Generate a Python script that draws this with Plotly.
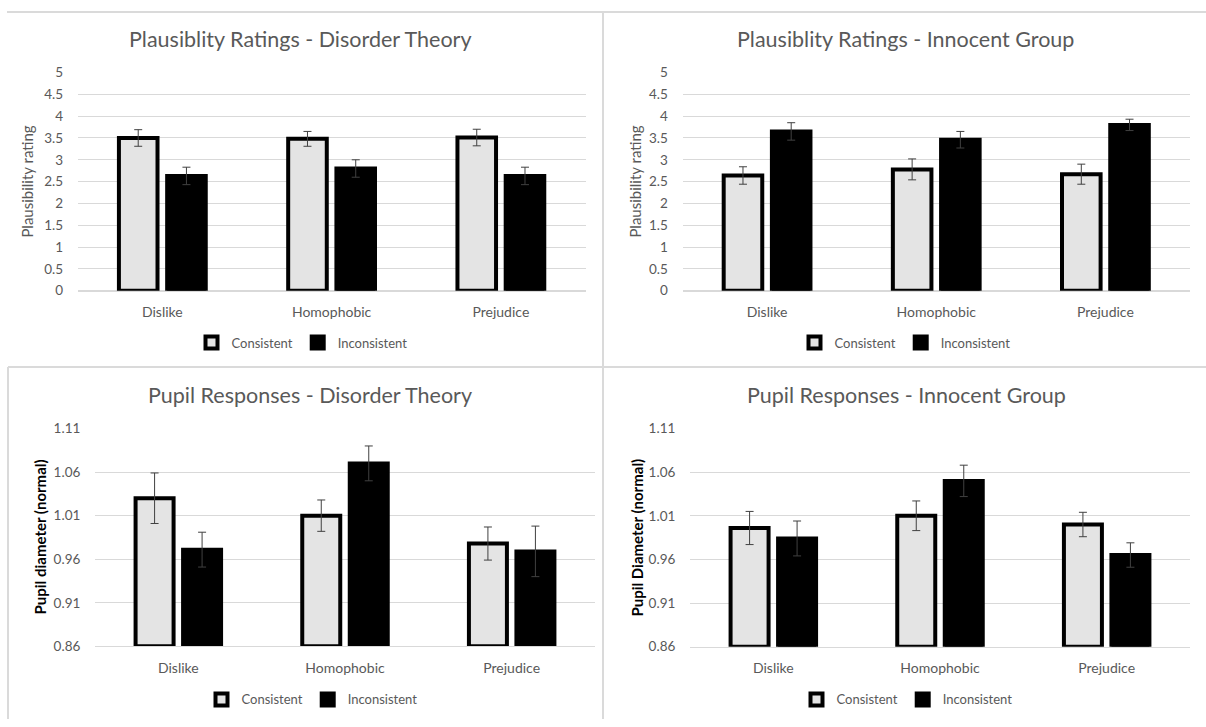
import plotly.graph_objects as go

# ---------------- data ----------------
categories = ["Dislike", "Homophobic", "Prejudice"]
series_names = ["Consistent", "Inconsistent"]

plaus_disorder_consistent = [3.50, 3.48, 3.51]
plaus_disorder_consistent_err = [0.19, 0.17, 0.19]
plaus_disorder_inconsistent = [2.63, 2.80, 2.63]
plaus_disorder_inconsistent_err = [0.20, 0.20, 0.20]

plaus_innocent_consistent = [2.64, 2.78, 2.67]
plaus_innocent_consistent_err = [0.20, 0.24, 0.23]
plaus_innocent_inconsistent = [3.65, 3.46, 3.80]
plaus_innocent_inconsistent_err = [0.20, 0.19, 0.13]

pupil_disorder_consistent = [1.030, 1.010, 0.978]
pupil_disorder_consistent_err = [0.029, 0.018, 0.019]
pupil_disorder_inconsistent = [0.971, 1.070, 0.969]
pupil_disorder_inconsistent_err = [0.020, 0.020, 0.029]

pupil_innocent_consistent = [0.996, 1.010, 1.000]
pupil_innocent_consistent_err = [0.019, 0.017, 0.014]
pupil_innocent_inconsistent = [0.984, 1.050, 0.965]
pupil_innocent_inconsistent_err = [0.020, 0.018, 0.014]

plaus_range = [0, 5]
plaus_ticks = [0, 0.5, 1, 1.5, 2, 2.5, 3, 3.5, 4, 4.5, 5]
pupil_range = [0.86, 1.11]
pupil_ticks = [0.86, 0.91, 0.96, 1.01, 1.06, 1.11]

titles = [
    "Plausiblity Ratings - Disorder Theory",
    "Plausiblity Ratings - Innocent Group",
    "Pupil Responses - Disorder Theory",
    "Pupil Responses - Innocent Group",
]
y_titles = [
    "Plausibility rating",
    "Plausibility rating",
    "<b>Pupil diameter (normal)</b>",
    "<b>Pupil Diameter (normal)</b>",
]

# ---------------- layout geometry (pixels) ----------------
W, H = 1206, 727
GRAY = "#595959"
FONT = "Lato"

panels = [
    dict(cons=plaus_disorder_consistent, cons_err=plaus_disorder_consistent_err,
         inc=plaus_disorder_inconsistent, inc_err=plaus_disorder_inconsistent_err,
         rng=plaus_range, ticks=plaus_ticks, fmt="",
         x0=77.7, x1=585.5, ytop=66, ybot=289, title_x=300, title_y=32,
         ytitle_x=27, ytitle_color=GRAY, ytitle_size=15, legend_x=302, legend_y=342),
    dict(cons=plaus_innocent_consistent, cons_err=plaus_innocent_consistent_err,
         inc=plaus_innocent_inconsistent, inc_err=plaus_innocent_inconsistent_err,
         rng=plaus_range, ticks=plaus_ticks, fmt="",
         x0=682.5, x1=1190, ytop=66, ybot=289, title_x=905, title_y=32,
         ytitle_x=635, ytitle_color=GRAY, ytitle_size=15, legend_x=905, legend_y=342),
    dict(cons=pupil_disorder_consistent, cons_err=pupil_disorder_consistent_err,
         inc=pupil_disorder_inconsistent, inc_err=pupil_disorder_inconsistent_err,
         rng=pupil_range, ticks=pupil_ticks, fmt=".2f",
         x0=95, x1=595, ytop=430, ybot=652.7, title_x=310, title_y=396,
         ytitle_x=40, ytitle_color="#000000", ytitle_size=15, legend_x=312, legend_y=707),
    dict(cons=pupil_innocent_consistent, cons_err=pupil_innocent_consistent_err,
         inc=pupil_innocent_inconsistent, inc_err=pupil_innocent_inconsistent_err,
         rng=pupil_range, ticks=pupil_ticks, fmt=".2f",
         x0=690, x1=1190, ytop=430, ybot=653, title_x=906, title_y=396,
         ytitle_x=637, ytitle_color="#000000", ytitle_size=15, legend_x=907, legend_y=707),
]

fig = go.Figure()
annotations = []
layout_axes = {}

for i, p in enumerate(panels):
    n = i + 1
    xa = "x" if n == 1 else f"x{n}"
    ya = "y" if n == 1 else f"y{n}"
    lg = "legend" if n == 1 else f"legend{n}"
    base = p["rng"][0]
    for name, vals, errs, fill in [
        (series_names[0], p["cons"], p["cons_err"], "#e4e4e4"),
        (series_names[1], p["inc"], p["inc_err"], "#000000"),
    ]:
        fig.add_trace(go.Bar(
            x=categories, y=[v - base for v in vals], base=base, name=name,
            xaxis=xa, yaxis=ya, legend=lg, offsetgroup=name,
            marker=dict(color=fill, line=dict(color="#000000", width=4)),
            error_y=dict(type="data", array=errs, color="#404040", thickness=1, width=4),
        ))

    xkey = "xaxis" if n == 1 else f"xaxis{n}"
    ykey = "yaxis" if n == 1 else f"yaxis{n}"
    layout_axes[xkey] = dict(
        domain=[p["x0"] / W, p["x1"] / W], anchor=ya, type="category",
        showgrid=False, showline=True, linecolor="#d9d9d9", linewidth=1,
        ticks="outside", ticklen=9, tickcolor="rgba(0,0,0,0)",
        tickfont=dict(family=FONT, size=14, color=GRAY), fixedrange=True,
    )
    layout_axes[ykey] = dict(
        domain=[1 - p["ybot"] / H, 1 - p["ytop"] / H], anchor=xa,
        range=p["rng"], tickvals=p["ticks"], tickformat=p["fmt"],
        showgrid=True, gridcolor="#d9d9d9", gridwidth=1,
        zeroline=True, zerolinecolor="#d9d9d9", zerolinewidth=1,
        showline=False, ticks="outside", ticklen=11, tickcolor="rgba(0,0,0,0)",
        tickfont=dict(family=FONT, size=13.5, color=GRAY), fixedrange=True,
    )
    layout_axes[lg] = dict(
        orientation="h", x=p["legend_x"] / W, xanchor="center",
        y=1 - p["legend_y"] / H, yanchor="middle",
        font=dict(family=FONT, size=13, color=GRAY),
        bgcolor="rgba(0,0,0,0)", itemwidth=30, tracegroupgap=0,
    )
    annotations.append(dict(
        text=titles[i], x=p["title_x"] / W, y=1 - p["title_y"] / H,
        xref="paper", yref="paper", xanchor="center", yanchor="middle",
        showarrow=False, font=dict(family=FONT, size=21.5, color=GRAY),
    ))
    annotations.append(dict(
        text=y_titles[i], x=p["ytitle_x"] / W, y=1 - (p["ytop"] + p["ybot"]) / 2 / H,
        xref="paper", yref="paper", xanchor="center", yanchor="middle",
        textangle=-90, showarrow=False,
        font=dict(family=FONT, size=p["ytitle_size"], color=p["ytitle_color"]),
    ))

sep = dict(type="line", xref="paper", yref="paper", line=dict(color="#dadada", width=2))
shapes = [
    dict(sep, x0=7 / W, x1=1, y0=1 - 4 / H, y1=1 - 4 / H),
    dict(sep, x0=603 / W, x1=603 / W, y0=0, y1=1 - 4 / H),
    dict(sep, x0=8 / W, x1=1, y0=1 - 367 / H, y1=1 - 367 / H),
    dict(sep, x0=8 / W, x1=8 / W, y0=0, y1=1 - 367 / H),
]

fig.update_layout(
    width=W, height=H, margin=dict(l=0, r=0, t=0, b=0),
    paper_bgcolor="white", plot_bgcolor="white",
    barmode="group", bargap=0.43, bargroupgap=0.2,
    annotations=annotations, shapes=shapes,
    font=dict(family=FONT, color=GRAY),
    **layout_axes,
)

fig.write_html(
    "out.html",
    config={"displayModeBar": False},
    post_script="document.body.style.margin='0';document.body.style.overflow='hidden';",
)
